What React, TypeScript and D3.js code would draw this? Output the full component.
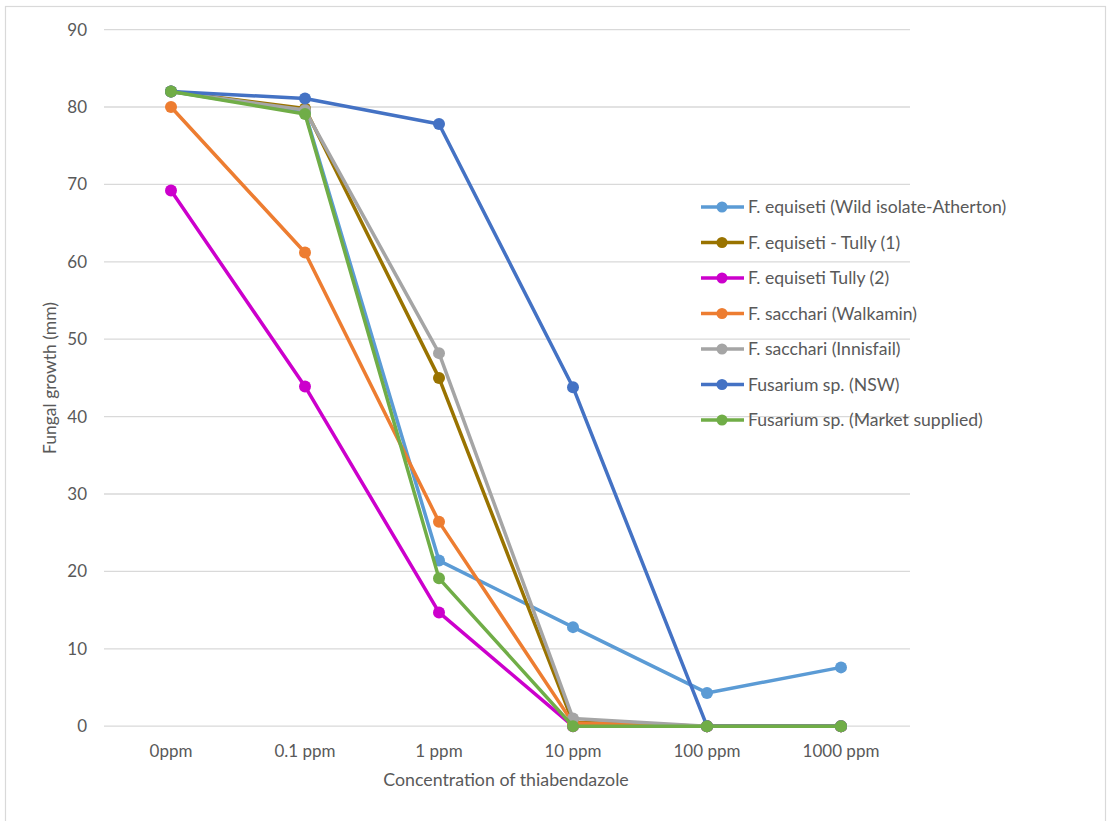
import React from "react";
import * as d3 from "d3";

// Concentrations of thiabendazole (x categories)
const categories = ["0ppm", "0.1 ppm", "1 ppm", "10 ppm", "100 ppm", "1000 ppm"];
const yTicks = [0, 10, 20, 30, 40, 50, 60, 70, 80, 90];

// Fungal growth (mm) per isolate
const seriesNames = [
  "F. equiseti (Wild isolate-Atherton)",
  "F. equiseti - Tully (1)",
  "F. equiseti Tully (2)",
  "F. sacchari (Walkamin)",
  "F. sacchari (Innisfail)",
  "Fusarium sp. (NSW)",
  "Fusarium sp. (Market supplied)",
];
const seriesColors = ["#5B9BD5", "#997300", "#CC00CC", "#ED7D31", "#A5A5A5", "#4472C4", "#70AD47"];

const wildAtherton = [82, 79.3, 21.4, 12.8, 4.3, 7.6];
const tully1 = [82, 79.8, 45.0, 0.5, 0, 0];
const tully2 = [69.2, 43.9, 14.7, 0, 0, 0];
const walkamin = [80, 61.2, 26.4, 0.4, 0, 0];
const innisfail = [82, 79.6, 48.2, 1.0, 0, 0];
const nsw = [82, 81.1, 77.8, 43.8, 0, 0];
const market = [82, 79.1, 19.1, 0, 0, 0];

const seriesValues = [wildAtherton, tully1, tully2, walkamin, innisfail, nsw, market];

const W = 1107;
const H = 821;
const FONT = "Lato, 'Open Sans', sans-serif";
const TEXT = "#595959";

export default function App() {
  const x = d3.scalePoint<string>().domain(categories).range([104, 908]).padding(0.5);
  const y = d3.scaleLinear().domain([0, 90]).range([726.2, 29.6]);
  const line = d3
    .line<number>()
    .x((_, i) => x(categories[i]) as number)
    .y((d) => y(d));

  const legendX = 701;
  const legendY0 = 207;
  const legendStep = 35.5;

  return (
    <svg
      width={W}
      height={H}
      style={{ position: "absolute", left: 0, top: 0, background: "#fff" }}
      fontFamily={FONT}
    >
      <rect x={5.5} y={6.5} width={1100} height={H + 10} fill="#fff" stroke="#D9D9D9" strokeWidth={1.2} />

      {/* gridlines */}
      {yTicks.map((t) => (
        <line key={t} x1={104} x2={910} y1={y(t)} y2={y(t)} stroke="#D9D9D9" strokeWidth={1.3} />
      ))}

      {/* y tick labels */}
      {yTicks.map((t) => (
        <text key={t} x={87} y={y(t)} dy="0.35em" textAnchor="end" fontSize={17} fill={TEXT}>
          {t}
        </text>
      ))}

      {/* x tick labels */}
      {categories.map((c) => (
        <text key={c} x={x(c)} y={757} textAnchor="middle" fontSize={17} fill={TEXT}>
          {c}
        </text>
      ))}

      <text x={506} y={786} textAnchor="middle" fontSize={17.8} fill={TEXT}>
        Concentration of thiabendazole
      </text>
      <text
        transform={`translate(56,378) rotate(-90)`}
        textAnchor="middle"
        fontSize={17.5}
        fill={TEXT}
      >
        Fungal growth (mm)
      </text>

      {/* series */}
      {seriesValues.map((vals, si) => (
        <g key={si}>
          <path d={line(vals) || ""} fill="none" stroke={seriesColors[si]} strokeWidth={3.5} strokeLinejoin="round" />
          {vals.map((v, i) => (
            <circle key={i} cx={x(categories[i])} cy={y(v)} r={6} fill={seriesColors[si]} />
          ))}
        </g>
      ))}

      {/* legend */}
      {seriesNames.map((name, si) => {
        const cy = legendY0 + si * legendStep;
        return (
          <g key={name}>
            <line x1={legendX} x2={legendX + 43} y1={cy} y2={cy} stroke={seriesColors[si]} strokeWidth={3.5} />
            <circle cx={legendX + 21} cy={cy} r={5.5} fill={seriesColors[si]} />
            <text x={legendX + 47} y={cy} dy="0.35em" fontSize={17.6} fill={TEXT}>
              {name}
            </text>
          </g>
        );
      })}
    </svg>
  );
}
